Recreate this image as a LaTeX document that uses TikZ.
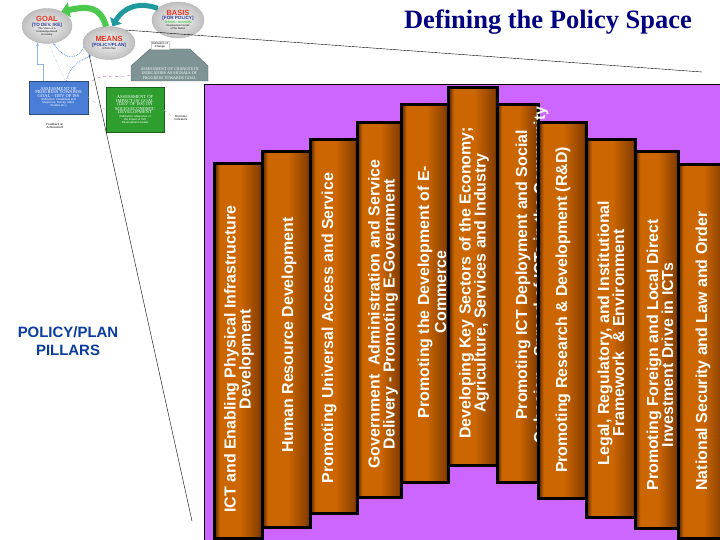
\documentclass[tikz,border=0pt]{standalone}
\usepackage{fontspec}
\setmainfont{Liberation Serif}
\newfontfamily\arialfont{Liberation Sans}
\usetikzlibrary{arrows.meta,shapes.geometric}
\definecolor{purpbg}{HTML}{CC66FF}
\definecolor{pilldark}{HTML}{4A2000}
\definecolor{pillorange}{HTML}{CC6600}
\definecolor{pillmid}{HTML}{8A4000}
\definecolor{titlenavy}{HTML}{000080}
\definecolor{headblue}{HTML}{0A3C9E}
\definecolor{goalred}{HTML}{E8321E}
\definecolor{capblue}{HTML}{2A3A9A}
\definecolor{arrowgreen}{HTML}{4CC94C}
\definecolor{arrowteal}{HTML}{1E9A9E}
\definecolor{progblue}{HTML}{4A7ED6}
\definecolor{impactgreen}{HTML}{2E9E2E}
\definecolor{changegray}{HTML}{7E9494}
\pgfdeclarehorizontalshading{pillarshade}{100bp}{color(0bp)=(pilldark); color(25bp)=(pilldark); color(31bp)=(pillorange); color(52bp)=(pillorange); color(72bp)=(pillmid); color(75bp)=(pilldark); color(100bp)=(pilldark)}
\newcommand\bubblehead{\arialfont\bfseries\fontsize{7.5}{8}\selectfont}
\newcommand\bubblesub{\arialfont\bfseries\fontsize{4.6}{5.2}\selectfont}
\newcommand\bubbletiny{\arialfont\fontsize{2.6}{3}\selectfont}
\newcommand\boxfont{\rmfamily\fontsize{4.6}{5.2}\selectfont}
\newcommand\tinyfont{\arialfont\fontsize{2.9}{3.3}\selectfont}

\begin{document}
\begin{tikzpicture}[x=1bp,y=-1bp,
    pillar/.style={draw=black,line width=3bp,shading=pillarshade},
    pillartext/.style={rotate=90,text=white,align=center,inner sep=0pt,font=\arialfont\bfseries\fontsize{16}{15}\selectfont},
    bubble/.style={ellipse,draw=gray!60,inner color=gray!8,outer color=gray!50,inner sep=0pt,align=center,font=\bubbletiny},
    tinytext/.style={font=\tinyfont},
    dotlink/.style={densely dotted,thick,progblue!80,-{Stealth[length=3bp]}},
    bluelink/.style={line width=1.4bp,progblue!60,-{Stealth[length=4bp]}}]
    \useasboundingbox (0,0) rectangle (720,540);
    \fill[white] (0,0) rectangle (720,540);

    %title
    \node (title) [anchor=base,text=titlenavy,font=\bfseries\fontsize{26.6}{30}\selectfont] at (548,29) {Defining the Policy Space};
    \node (pillarhead) [text=headblue,align=center,font=\arialfont\bfseries\fontsize{15}{18}\selectfont] at (68,341) {POLICY/PLAN\\PILLARS};

    %thumbnail bubbles
    \node (goal) [bubble,minimum width=50bp,minimum height=35bp] at (47,26) {\color{goalred}\bubblehead GOAL\\\color{capblue}\bubblesub [TO DEV. IKE]\\The Vision of a\\Knowledge-based\\Economy};
    \node (means) [bubble,minimum width=52bp,minimum height=33bp] at (109,43) {\color{goalred}\bubblehead MEANS\\\color{capblue}\bubblesub [POLICY/PLAN]\\ICT4D Plan};
    \node (basis) [bubble,minimum width=52bp,minimum height=36bp] at (178,20) {\color{goalred}\bubblehead BASIS\\\color{capblue}\bubblesub [FOR POLICY]\\\color{arrowgreen}\arialfont\bfseries\fontsize{3.2}{3.6}\selectfont VISION / MISSION\\Development Goals\\of the Nation};

    %thumbnail boxes
    \node (progress) [draw=progblue!60!black,fill=progblue,text=white,minimum width=59bp,minimum height=33bp,align=center,inner sep=1bp,tinytext] at (58.5,97.5) {\boxfont ASSESSMENT OF\\\boxfont PROGRESS TOWARDS\\\boxfont GOAL -- DEV OF ISS\\(Indicators: Readiness and\\Measures, Survey, Index\\Studies etc.)};
    \node (impact) [draw=impactgreen!60!black,fill=impactgreen,text=white,minimum width=58bp,minimum height=45bp,align=center,inner sep=1bp,tinytext] at (135,110) {\boxfont ASSESSMENT OF\\\boxfont IMPACT OF GOAL\\\boxfont (DEV OF ISS) ON\\\boxfont SOCIO-ECONOMIC\\\boxfont DEVELOPMENT\\(Indicators: Measures of\\the impact of ISS\\Development Goals)};
    \filldraw[fill=changegray,draw=changegray!70!black] (131,66) -- (150,49) -- (190,49) -- (208,66) -- (208,81) -- (131,81) -- cycle;
    \node (changes) [text=white,align=center,inner sep=0pt,font=\fontsize{4.1}{4.6}\selectfont] at (169.5,73.5) {ASSESSMENT OF CHANGES IN\\INDICATORS AS SIGNALS OF\\PROGRESS TOWARDS GOAL};
    \node (note) [draw=gray!40,fill=white,align=center,tinytext,inner sep=1bp] at (160,45) {Indicators of\\Change};
    \node (feedback) [draw=progblue!40,fill=white,align=center,tinytext,inner sep=1bp,double] at (55,126) {Feedback on\\Achievement};
    \node (outcome) [align=center,tinytext,inner sep=1bp] at (181,118) {Outcome\\Indicators};

    %thumbnail links
    \draw[line width=6bp,arrowgreen,-{Triangle[width=15bp,length=8bp]}] (means.100) .. controls (100,6) and (88,6) .. (goal.45);
    \draw[line width=5bp,arrowteal,-{Triangle[width=13bp,length=7bp]}] (basis.150) .. controls (140,2) and (124,6) .. (means.78);
    \draw[dotlink] (progress.65) .. controls (70,66) and (78,62) .. (means.215);
    \draw[dotlink] (means.190) .. controls (74,64) and (62,56) .. (goal.290);
    \draw[bluelink] ([xshift=-15bp]progress.north) -- ++(0,-16) -| (goal.240);
    \draw[densely dotted,impactgreen!60] (goal.275) -- (progress.68);
    \draw[dashed,violet!60] ([xshift=4bp]progress.north east) .. controls (104,72) and (116,80) .. (changes.west);
    \draw[dashed,gray!50] (progress.east) -- (impact.west);
    \draw[dashed,impactgreen!50] (impact.east) -- (outcome.west);

    %frame and pillars
    \filldraw[fill=purpbg,draw=black] (204,84) rectangle (730,550);
    \filldraw[pillar] (214,164) rectangle (262,538);
    \node (p1) [pillartext] at (239,359) {ICT and Enabling Physical Infrastructure\\Development};
    \filldraw[pillar] (262,152) rectangle (310,527);
    \node (p2) [pillartext] at (289,335) {Human Resource Development};
    \filldraw[pillar] (310,140) rectangle (357,513);
    \node (p3) [pillartext] at (329,328) {Promoting Universal Access and Service};
    \filldraw[pillar] (357,123) rectangle (401,497);
    \node (p4) [pillartext] at (383,314) {Government \ Administration and Service\\Delivery - Promoting E-Government};
    \filldraw[pillar] (401,105) rectangle (448,482);
    \node (p5) [pillartext] at (432,292) {Promoting the Development of E-\\[2bp]Commerce};
    \filldraw[pillar] (448,88) rectangle (497,465);
    \node (p6) [pillartext] at (474,283) {Developing Key Sectors of the Economy;\\Agriculture, Services and Industry};
    \filldraw[pillar] (497,105) rectangle (538,482);
    \node (p7) [pillartext] at (532,275) {Promoting ICT Deployment and Social\\[3bp]Cohesion - Spread of ICTs in the Community};
    \filldraw[pillar] (538,123) rectangle (586,498);
    \node (p8) [pillartext] at (563,310) {Promoting Research \& Development (R\&D)};
    \filldraw[pillar] (586,140) rectangle (635,517);
    \node (p9) [pillartext] at (611,333) {Legal, Regulatory, and Institutional\\Framework \ \& Environment};
    \filldraw[pillar] (635,152) rectangle (678,528);
    \node (p10) [pillartext] at (660,355) {Promoting Foreign and Local Direct\\Investment Drive in ICTs};
    \filldraw[pillar] (678,165) rectangle (725,538);
    \node (p11) [pillartext] at (703,351) {National Security and Law and Order};

    %leader lines
    \coordinate (endtop) at (702,72);
    \coordinate (endlow) at (192,521);
    \draw (means.38) -- (endtop);
    \draw (means.208) -- (endlow);
  \end{tikzpicture}
\end{document}
